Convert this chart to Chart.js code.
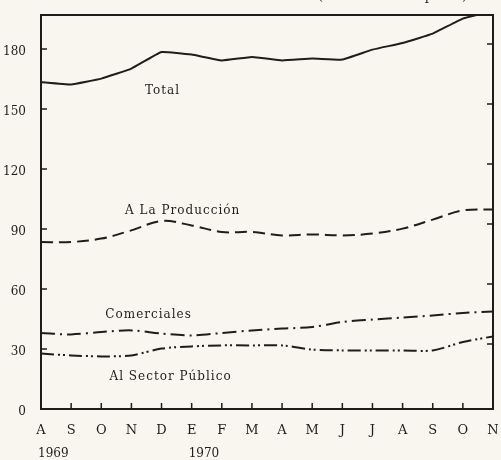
<!DOCTYPE html>
<html>
<head>
<meta charset="utf-8">
<script src="https://cdn.jsdelivr.net/npm/chart.js@4"></script>
<style>
    html, body { margin: 0; padding: 0; background: #f8f6ef; }
    #wrap { width: 501px; height: 460px; }
</style>
</head>
<body>
<div id="wrap"><canvas id="chart" width="501" height="460"></canvas></div>
<script>
const months = ["A", "S", "O", "N", "D", "E", "F", "M", "A", "M", "J", "J", "A", "S", "O", "N"];
const years = [{ label: "1969", index: 0 }, { label: "1970", index: 5 }];

const total = [163.5, 162.3, 165.2, 170.2, 178.5, 177.2, 174.3, 176, 174.3, 175.2, 174.7, 179.7, 183, 187.7, 195.2, 199];
const produccion = [83.5, 83.5, 85.2, 89.3, 94, 91.8, 88.5, 88.5, 86.8, 87.3, 86.8, 87.7, 90.2, 94.7, 99.3, 99.8];
const comerciales = [38, 37.3, 38.5, 39.3, 37.7, 36.8, 38, 39.3, 40.2, 41, 43.5, 44.7, 45.7, 46.8, 48, 48.8];
const sectorPublico = [27.7, 26.8, 26.3, 26.8, 30.2, 31.3, 31.8, 31.8, 31.8, 29.7, 29.3, 29.3, 29.3, 29.3, 33.5, 36.3];

// series name, where its label sits (category index, value)
const seriesLabels = [
    { text: "Total", x: 4.03, y: 159 },
    { text: "A La Producción", x: 4.7, y: 99 },
    { text: "Comerciales", x: 3.57, y: 47 },
    { text: "Al Sector Público", x: 4.3, y: 16 }
];

const ink = "#1f1d1b";
const serif = "'DejaVu Serif', 'Liberation Serif', serif";

const paper = {
    id: "paper",
    beforeDraw(chart) {
        const ctx = chart.ctx;
        ctx.save();
        ctx.fillStyle = "#f8f6ef";
        ctx.fillRect(0, 0, chart.width, chart.height);
        ctx.restore();
    },
    afterDraw(chart) {
        const { ctx, chartArea: a, scales: { x, y } } = chart;
        ctx.save();
        ctx.strokeStyle = ink;
        ctx.lineWidth = 2;
        ctx.strokeRect(a.left, a.top, a.right - a.left, a.bottom - a.top);

        // ticks point inwards
        ctx.lineWidth = 1.5;
        ctx.beginPath();
        y.ticks.forEach(t => {
            if (t.value === 0) return;
            const py = y.getPixelForValue(t.value);
            ctx.moveTo(a.left, py); ctx.lineTo(a.left + 6, py);
            ctx.moveTo(a.right, py - 5); ctx.lineTo(a.right - 6, py - 5);
        });
        x.ticks.forEach((t, i) => {
            if (i === 0 || i === x.ticks.length - 1) return;
            const px = x.getPixelForTick(i);
            ctx.moveTo(px, a.bottom); ctx.lineTo(px, a.bottom - 6);
        });
        ctx.stroke();

        ctx.fillStyle = ink;
        ctx.font = "12px " + serif;
        ctx.letterSpacing = "1px";
        ctx.textAlign = "center";
        ctx.textBaseline = "middle";
        seriesLabels.forEach(l => {
            ctx.fillText(l.text, x.getPixelForValue(l.x), y.getPixelForValue(l.y));
        });

        ctx.letterSpacing = "0px";
        ctx.textAlign = "left";
        years.forEach(yr => {
            ctx.fillText(yr.label, x.getPixelForTick(yr.index) - 3, 454);
        });

        ctx.font = "13px " + serif;
        ctx.fillText("(En millones de pesos)", 318, -3);
        ctx.restore();
    }
};

function line(data, dash, tension) {
    return {
        data: data,
        borderColor: ink,
        borderWidth: 2,
        borderDash: dash,
        pointRadius: 0,
        tension: tension,
        fill: false
    };
}

new Chart(document.getElementById("chart").getContext("2d"), {
    type: "line",
    data: {
        labels: months,
        datasets: [
            line(total, [], 0.1),
            line(produccion, [12, 6], 0.35),
            line(comerciales, [14, 5, 2, 5], 0.3),
            line(sectorPublico, [13, 4, 2, 3, 2, 4], 0.3)
        ]
    },
    options: {
        responsive: false,
        animation: false,
        layout: { padding: { top: 15, right: 8, left: 0, bottom: 0 } },
        plugins: { legend: { display: false }, tooltip: { enabled: false } },
        scales: {
            x: {
                offset: false,
                grid: { display: false },
                border: { display: false },
                ticks: {
                    autoSkip: false, maxRotation: 0, padding: 6,
                    color: ink, font: { family: serif, size: 13 }
                },
                afterFit(s) { s.height = 51; s.paddingLeft = 0; s.paddingRight = 0; }
            },
            y: {
                min: 0, max: 197,
                grid: { display: false },
                border: { display: false },
                ticks: {
                    stepSize: 30, includeBounds: false, padding: 7, labelOffset: 3,
                    color: ink, font: { family: serif, size: 12 }
                },
                afterFit(s) { s.width = 41; s.paddingTop = 0; s.paddingBottom = 0; }
            }
        }
    },
    plugins: [paper]
});
</script>
</body>
</html>
